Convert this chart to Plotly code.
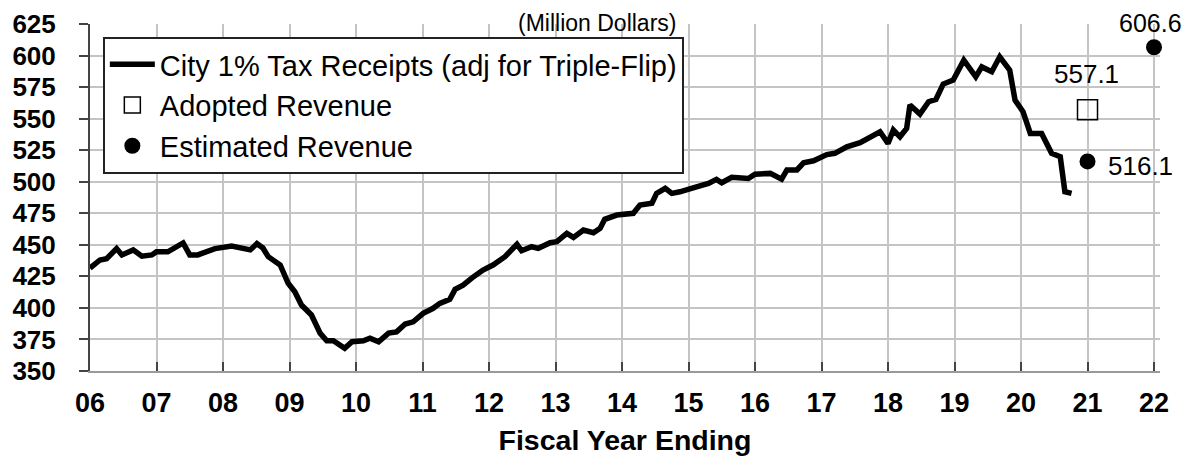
import plotly.graph_objects as go

# Monthly-ish City 1% tax receipts (fiscal year position, $M)
receipt_x = [6.00, 6.15, 6.25, 6.40, 6.48, 6.65, 6.78, 6.93, 7.00, 7.17, 7.40, 7.50, 7.62, 7.88,
             8.13, 8.41, 8.51, 8.60, 8.68, 8.86, 8.98, 9.08, 9.18, 9.33, 9.46, 9.56, 9.66, 9.83,
             9.94, 10.11, 10.21, 10.34, 10.49, 10.61, 10.74, 10.86, 11.01, 11.16, 11.26, 11.41,
             11.49, 11.61, 11.75, 11.91, 12.06, 12.24, 12.42, 12.49, 12.64, 12.74, 12.92, 13.02,
             13.17, 13.27, 13.42, 13.57, 13.67, 13.74, 13.92, 14.17, 14.27, 14.45, 14.52, 14.65,
             14.75, 14.87, 15.12, 15.30, 15.42, 15.50, 15.65, 15.90, 16.00, 16.23, 16.40, 16.48,
             16.63, 16.73, 16.88, 17.08, 17.20, 17.38, 17.58, 17.73, 17.88, 18.00, 18.08, 18.18,
             18.28, 18.33, 18.48, 18.61, 18.72, 18.83, 18.98, 19.14, 19.32, 19.41, 19.56, 19.68,
             19.83, 19.91, 20.03, 20.14, 20.31, 20.46, 20.59, 20.66, 20.76]
receipt_y = [431.5, 438.0, 439.0, 447.0, 442.0, 446.0, 441.0, 442.0, 444.5, 444.5, 451.5, 442.0, 442.0, 447.0,
             449.0, 446.0, 451.0, 447.5, 440.6, 434.0, 419.5, 412.8, 402.3, 394.4, 380.0, 374.0, 374.0, 368.0,
             373.2, 374.0, 376.0, 373.2, 380.0, 381.0, 387.2, 389.0, 395.7, 399.7, 403.6, 406.8,
             414.7, 418.0, 424.0, 430.0, 434.0, 440.6, 450.4, 445.3, 448.5, 447.2, 451.7, 452.5,
             459.0, 455.9, 461.7, 459.6, 463.0, 470.2, 473.6, 475.0, 481.5, 483.0, 490.8, 494.8,
             490.8, 492.0, 496.0, 498.7, 501.9, 499.2, 503.5, 502.6, 506.0, 506.6, 502.0, 509.3,
             509.3, 515.0, 516.6, 521.5, 522.5, 527.7, 530.9, 535.0, 539.6, 530.4, 541.0, 535.6,
             542.3, 560.8, 553.6, 563.4, 565.2, 577.4, 580.6, 596.4, 583.2, 591.0, 587.2, 599.0,
             588.5, 564.7, 555.5, 538.3, 538.3, 522.5, 519.8, 492.1, 490.8]

adopted_x = [21]
adopted_y = [557.1]
estimated_x = [21, 22]
estimated_y = [516.1, 606.6]

year_ticks = list(range(6, 23))
year_labels = ["06", "07", "08", "09", "10", "11", "12", "13", "14", "15", "16", "17",
               "18", "19", "20", "21", "22"]
y_ticks = [350, 375, 400, 425, 450, 475, 500, 525, 550, 575, 600, 625]

FONT = "Liberation Sans"

fig = go.Figure()
fig.add_trace(go.Scatter(x=receipt_x, y=receipt_y, mode="lines",
                         name="City 1% Tax Receipts (adj for Triple-Flip)",
                         line=dict(color="black", width=5.5), cliponaxis=False))
fig.add_trace(go.Scatter(x=adopted_x, y=adopted_y, mode="markers", name="Adopted Revenue",
                         marker=dict(symbol="square-open", size=20, color="black",
                                     line=dict(color="black", width=1.5)),
                         cliponaxis=False))
fig.add_trace(go.Scatter(x=estimated_x, y=estimated_y, mode="markers", name="Estimated Revenue",
                         marker=dict(symbol="circle", size=16, color="black"),
                         cliponaxis=False))

# value labels
fig.add_annotation(x=adopted_x[0], y=adopted_y[0], text=f"{adopted_y[0]:.1f}", showarrow=False,
                   yshift=36, xshift=-1, font=dict(family=FONT, size=26, color="black"))
fig.add_annotation(x=estimated_x[0], y=estimated_y[0], text=f"{estimated_y[0]:.1f}", showarrow=False,
                   xshift=53, yshift=-5, font=dict(family=FONT, size=26, color="black"))
fig.add_annotation(x=estimated_x[1], y=estimated_y[1], text=f"{estimated_y[1]:.1f}", showarrow=False,
                   xshift=-4, yshift=24, font=dict(family=FONT, size=25, color="black"))

# title
fig.add_annotation(xref="paper", yref="paper", x=0.474, y=1.046, yanchor="top",
                   text="(Million Dollars)", showarrow=False,
                   font=dict(family=FONT, size=23, color="black"))

# the page adds an 8px body margin, so the figure is sized/margined to land
# the plot area at the same page position as the reference
fig.update_layout(
    width=1187, height=448,
    margin=dict(l=82, r=35, t=16, b=85, autoexpand=False),
    paper_bgcolor="white", plot_bgcolor="white",
    font=dict(family=FONT, color="black"),
    showlegend=True,
    legend=dict(x=0.012, y=0.9625, xanchor="left", yanchor="top",
                bgcolor="white", bordercolor="#222", borderwidth=2,
                font=dict(family=FONT, size=29, color="black"),
                itemwidth=45, tracegroupgap=0),
    xaxis=dict(range=[6, 22.09], tickvals=year_ticks, ticktext=year_labels, automargin=False,
               showgrid=True, gridcolor="#c4c4c4", gridwidth=1.5,
               zeroline=False, showline=True, linecolor="#9a9a9a", linewidth=2,
               ticks="inside", ticklen=9, tickwidth=2, tickcolor="#444",
               tickfont=dict(family=FONT, size=27, color="black", weight="bold"),
               ticklabelstandoff=7,
               title=dict(text="Fiscal Year Ending", standoff=13,
                          font=dict(family=FONT, size=28.5, color="black", weight="bold"))),
    yaxis=dict(range=[350, 625], tickvals=y_ticks, automargin=False,
               showgrid=True, gridcolor="#c4c4c4", gridwidth=1.5,
               zeroline=False, showline=True, linecolor="#444", linewidth=2,
               ticks="outside", ticklen=9, tickwidth=2, tickcolor="#444",
               tickfont=dict(family=FONT, size=26, color="black", weight="bold"),
               ticklabelstandoff=18),
    yaxis2=dict(range=[350, 625], tickvals=y_ticks, overlaying="y", anchor="x", side="left",
                automargin=False,
                showgrid=False, zeroline=False, showline=False, showticklabels=False,
                ticks="inside", ticklen=9, tickwidth=2, tickcolor="#444"),
)

fig.write_html("out.html")
